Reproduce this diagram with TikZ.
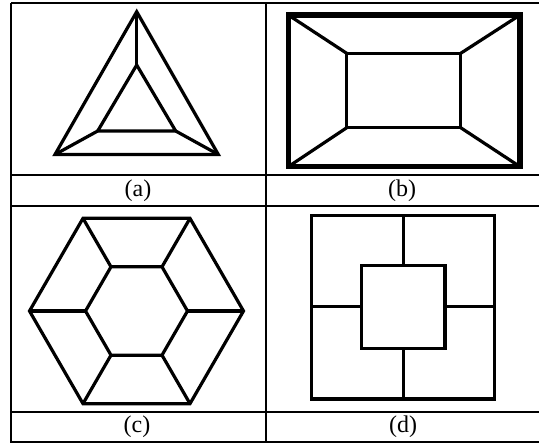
\documentclass[tikz,border=0pt]{standalone}
\usepackage{fontspec}
\setmainfont{Liberation Serif}
\begin{document}
\begin{tikzpicture}[x=0.75pt,y=-0.75pt,line join=miter]
  \useasboundingbox (0,0) rectangle (539,443);
  \tikzset{grid/.style={black,line width=1.5pt},
           figline/.style={black,line width=2.4pt},
           caption/.style={font=\fontsize{18}{20}\selectfont,inner sep=0pt}}
  \draw[grid] (11,3)--(545,3);
  \foreach \y in {175,206,412,442} {
    \draw[grid] (11,\y)--(545,\y);
  }
  \draw[grid] (11,3)--(11,443);
  \draw[grid] (266,3)--(266,443);
  % (a)
  \draw[figline] (136.7,11.7)--(218.3,154.5)--(55,154.5)--cycle;
  \draw[figline] (136.7,65)--(175.7,131)--(97.7,131)--cycle;
  \draw[figline] (136.7,11.7)--(136.7,65);
  \draw[figline] (218.3,154.5)--(175.7,131);
  \draw[figline] (55,154.5)--(97.7,131);
  % (b)
  \draw[black,line width=3.8pt] (288.3,15) rectangle (520,166.7);
  \draw[figline] (346.7,53.3) rectangle (460.7,127.7);
  \foreach \ox/\oy/\ix/\iy in {288.3/15/346.7/53.3, 520/15/460.7/53.3,
                               288.3/166.7/346.7/127.7, 520/166.7/460.7/127.7} {
    \draw[figline] (\ox,\oy)--(\ix,\iy);
  }
  % (c)
  \draw[figline] (136.5,311) +(0:107) -- +(60:107) -- +(120:107) -- +(180:107)
    -- +(240:107) -- +(300:107) -- cycle;
  \draw[figline] (136.5,311) +(0:51) -- +(60:51) -- +(120:51) -- +(180:51)
    -- +(240:51) -- +(300:51) -- cycle;
  \foreach \a in {0,60,...,300} {
    \draw[figline] (136.5,311) +(\a:51) -- +(\a:107);
  }
  % (d)
  \draw[figline] (311.7,215.7) rectangle (494.3,399);
  \draw[figline] (361.7,265.7) rectangle (445,348.3);
  \draw[figline] (403.3,215.7)--(403.3,265.7);
  \draw[figline] (403.3,348.3)--(403.3,399);
  \draw[figline] (311.7,306.5)--(361.7,306.5);
  \draw[figline] (445,306.5)--(494.3,306.5);
  \node[caption] (capa) at (138,190.5) {(a)};
  \node[caption] (capb) at (402,190.5) {(b)};
  \node[caption] (capc) at (137,427) {(c)};
  \node[caption] (capd) at (403,427) {(d)};
\end{tikzpicture}
\end{document}
